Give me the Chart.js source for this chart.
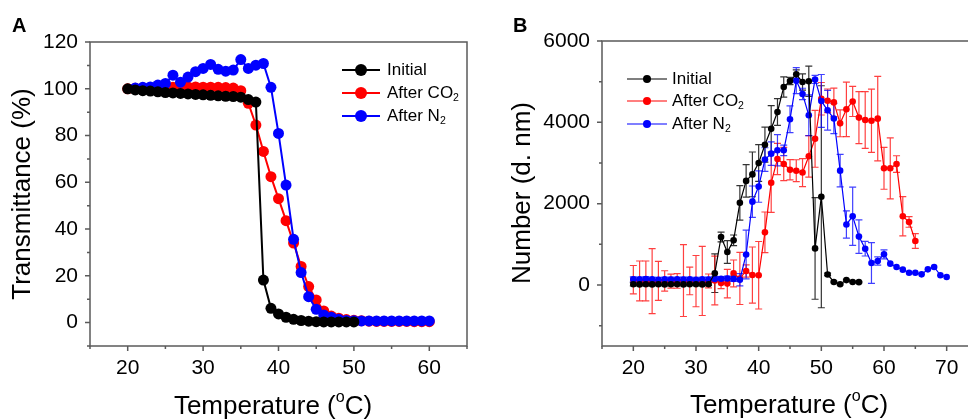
<!DOCTYPE html>
<html>
<head>
<meta charset="utf-8">
<script src="https://cdn.jsdelivr.net/npm/chart.js"></script>
<style>
  html, body { margin: 0; padding: 0; background: #fff; overflow: hidden; width: 968px; height: 420px; }
  canvas { position: absolute; top: 0; }
  #chartA { left: 0; }
  #chartB { left: 490px; }
</style>
</head>
<body>
<canvas id="chartA" width="485" height="420"></canvas>
<canvas id="chartB" width="495" height="420"></canvas>
<script>
// ---- Panel A: transmittance vs temperature ----
const tempA_initial = [20,21,22,23,24,25,26,27,28,29,30,31,32,33,34,35,36,37,38,39,40,41,42,43,44,45,46,47,48,49,50];
const transInitial = [100,99.5,99.2,99,98.7,98.4,98.2,98,97.8,97.6,97.4,97.2,97,96.8,96.7,96.4,95.4,94.3,18.2,6.1,3.7,2.3,1.4,0.9,0.6,0.4,0.3,0.3,0.3,0.3,0.3];

const tempA_co2 = [20,21,22,23,24,25,26,27,28,29,30,31,32,33,34,35,36,37,38,39,40,41,42,43,44,45,46,47,48,49,50,51,52,53,54,55,56,57,58,59,60];
const transCO2 = [100,100.2,100.3,100.3,100.5,100.6,100.7,100.8,100.8,100.8,100.7,100.7,100.6,100.5,100.3,99.2,93.8,84.5,73.2,62.4,53,43.6,34,24,15.4,9.7,5,2.8,1.9,1.3,1,0.8,0.6,0.5,0.5,0.5,0.5,0.5,0.4,0.4,0.4];

const tempA_n2 = [21,22,23,24,25,26,27,28,29,30,31,32,33,34,35,36,37,38,39,40,41,42,43,44,45,46,47,48,49,50,51,52,53,54,55,56,57,58,59,60];
const transN2 = [100.3,100.6,100.8,101.6,102.3,105.8,102.8,105,107.3,108.7,110.4,108.3,107.5,108,112.5,108.7,110.1,110.8,100.6,80.9,58.8,35.6,21.4,11.1,5.7,3.3,2.3,1.4,0.9,0.8,0.7,0.7,0.7,0.7,0.7,0.7,0.7,0.7,0.7,0.7];

const xTicksA = [20,30,40,50,60];
const xMinorA = [15,25,35,45,55,65];
const yTicksA = [0,20,40,60,80,100,120];
const yMinorA = [-10,10,30,50,70,90,110];

// ---- Panel B: size (number, d. nm) vs temperature ----
const tempB_initial = [20,21,22,23,24,25,26,27,28,29,30,31,32,33,34,35,36,37,38,39,40,41,42,43,44,45,46,47,48,49,50,51,52,53,54,55,56];
const numInitial = [20,15,20,15,20,15,20,20,15,20,20,15,20,290,1180,810,1100,2020,2560,2720,3000,3450,3840,4255,4870,5015,5180,4990,5010,900,2170,260,75,20,120,75,70];
const errInitial = [40,30,40,35,30,40,35,30,40,30,35,40,30,475,120,280,130,425,400,550,450,430,570,330,250,90,110,200,370,1250,2730,30,20,20,20,20,20];

const tempB_co2 = [20,21,22,23,24,25,26,27,28,29,30,31,32,33,34,35,36,37,38,39,40,41,42,43,44,45,46,47,48,49,50,51,52,53,54,55,56,57,58,59,60,61,62,63,64,65];
const numCO2 = [130,100,100,95,100,100,95,100,110,100,95,100,100,110,50,35,285,160,345,245,240,1295,2515,3100,2975,2835,2810,2765,3165,3595,4580,4530,4490,3975,4320,4513,4117,4058,4038,4091,2870,2870,2973,1690,1550,1082];
const errCO2 = [350,490,490,800,480,250,170,180,885,340,630,850,170,600,140,350,330,640,150,690,830,500,730,385,410,250,270,345,510,700,400,290,350,330,670,370,640,697,779,1040,516,750,205,484,130,180];

const tempB_n2 = [20,21,22,23,24,25,26,27,28,29,30,31,32,33,34,35,36,37,38,39,40,41,42,43,44,45,46,47,48,49,50,51,52,53,54,55,56,57,58,59,60,61,62,63,64,65,66,67,68,69,70];
const numN2 = [140,140,145,140,130,140,135,140,135,140,130,140,135,150,155,160,150,130,750,2050,2420,3085,3230,3312,3312,4075,5025,4698,4173,5055,4526,4296,4093,2812,1488,1690,1190,893,541,590,754,525,443,377,303,303,262,385,443,238,197];
const errN2 = [60,50,60,50,60,50,60,50,60,50,60,50,60,60,50,60,60,150,600,385,385,290,290,385,130,330,320,140,500,100,650,490,370,400,336,715,410,180,500,100,110,0,0,0,0,0,0,0,0,0,0];

const xTicksB = [20,30,40,50,60,70];
const xMinorB = [15,25,35,45,55,65,75];
const yTicksB = [0,2000,4000,6000];
const yMinorB = [-1000,1000,3000,5000];

const FONT = "'Liberation Sans', Arial, Helvetica, sans-serif";
Chart.defaults.font.family = FONT;
Chart.defaults.color = '#000';

function pts(xs, ys) {
  return xs.map((x, i) => ({ x: x, y: ys[i] }));
}

// extra drawing per canvas: frame, ticks, titles, legend, error bars
const DECOR = {
  chartA: {
    xMajor: xTicksA, xMinor: xMinorA, yMajor: yTicksA, yMinor: yMinorA,
    letter: { text: 'A', x: 12, y: 26 },
    xTitle: { x: 273, y: 407 },
    yTitle: { x: 23, y: 194 },
    legend: { x: 342, len: 38, ys: [70, 93, 116], r: 5.5, lw: 2, textX: 387 },
    errors: null
  },
  chartB: {
    xMajor: xTicksB, xMinor: xMinorB, yMajor: yTicksB, yMinor: yMinorB,
    letter: { text: 'B', x: 23, y: 26 },
    xTitle: { x: 299, y: 406 },
    yTitle: { x: 33, y: 193 },
    legend: { x: 137, len: 40, ys: [79, 101, 124], r: 3.5, lw: 1.2, textX: 182 },
    errors: [errInitial, errCO2, errN2],
    errColors: ['rgba(0,0,0,0.8)', 'rgba(255,0,0,0.75)', 'rgba(0,0,255,0.75)']
  }
};

const LEGEND_LABELS = [
  [['Initial', null]],
  [['After CO', null], ['2', 'sub']],
  [['After N', null], ['2', 'sub']]
];
const TITLE_X = [['Temperature (', null], ['o', 'sup'], ['C)', null]];

function drawParts(ctx, parts, x, y, size, align) {
  const widths = parts.map(p => {
    ctx.font = (p[1] ? size * 0.62 : size) + 'px ' + FONT;
    return ctx.measureText(p[0]).width;
  });
  const total = widths.reduce((a, b) => a + b, 0);
  let cx = align === 'center' ? x - total / 2 : x;
  ctx.textAlign = 'left';
  ctx.textBaseline = 'middle';
  parts.forEach((p, i) => {
    ctx.font = (p[1] ? size * 0.62 : size) + 'px ' + FONT;
    let dy = 0;
    if (p[1] === 'sub') dy = size * 0.32;
    if (p[1] === 'sup') dy = -size * 0.36;
    ctx.fillText(p[0], cx, y + dy);
    cx += widths[i];
  });
}

const decorPlugin = {
  id: 'decor',
  beforeDatasetsDraw(chart) {
    const cfg = DECOR[chart.canvas.id];
    if (!cfg.errors) return;
    const ctx = chart.ctx;
    const xs = chart.scales.x, ys = chart.scales.y;
    cfg.errors.forEach((errs, di) => {
      const ds = chart.data.datasets[di];
      ctx.save();
      ctx.strokeStyle = cfg.errColors[di];
      ctx.lineWidth = 1.2;
      ds.data.forEach((p, i) => {
        const e = errs[i];
        if (!e) return;
        const px = xs.getPixelForValue(p.x);
        const top = ys.getPixelForValue(p.y + e);
        const bot = ys.getPixelForValue(p.y - e);
        ctx.beginPath();
        ctx.moveTo(px, top); ctx.lineTo(px, bot);
        ctx.moveTo(px - 3.5, top); ctx.lineTo(px + 3.5, top);
        ctx.moveTo(px - 3.5, bot); ctx.lineTo(px + 3.5, bot);
        ctx.stroke();
      });
      ctx.restore();
    });
  },
  afterDraw(chart) {
    const cfg = DECOR[chart.canvas.id];
    const ctx = chart.ctx;
    const a = chart.chartArea;
    const xs = chart.scales.x, ys = chart.scales.y;
    ctx.save();
    // frame
    ctx.strokeStyle = '#5a5a5a';
    ctx.lineWidth = 1.5;
    ctx.strokeRect(a.left, a.top, a.right - a.left, a.bottom - a.top);
    // ticks, outward
    ctx.beginPath();
    cfg.xMajor.forEach(v => { const p = xs.getPixelForValue(v); ctx.moveTo(p, a.bottom); ctx.lineTo(p, a.bottom + 5); });
    cfg.xMinor.forEach(v => { const p = xs.getPixelForValue(v); ctx.moveTo(p, a.bottom); ctx.lineTo(p, a.bottom + 3); });
    cfg.yMajor.forEach(v => { const p = ys.getPixelForValue(v); ctx.moveTo(a.left, p); ctx.lineTo(a.left - 5, p); });
    cfg.yMinor.forEach(v => { const p = ys.getPixelForValue(v); ctx.moveTo(a.left, p); ctx.lineTo(a.left - 3, p); });
    ctx.stroke();

    ctx.fillStyle = '#000';
    // panel letter
    ctx.font = 'bold 20px ' + FONT;
    ctx.textAlign = 'left';
    ctx.textBaseline = 'middle';
    ctx.fillText(cfg.letter.text, cfg.letter.x, cfg.letter.y);

    // axis titles
    drawParts(ctx, TITLE_X, cfg.xTitle.x, cfg.xTitle.y, 26, 'center');
    ctx.save();
    ctx.translate(cfg.yTitle.x, cfg.yTitle.y);
    ctx.rotate(-Math.PI / 2);
    const yTitle = chart.canvas.id === 'chartA' ? 'Transmittance (%)' : 'Number (d. nm)';
    drawParts(ctx, [[yTitle, null]], 0, 0, 26, 'center');
    ctx.restore();

    // legend
    const lg = cfg.legend;
    chart.data.datasets.forEach((ds, i) => {
      const y = lg.ys[i];
      ctx.strokeStyle = ds.borderColor;
      ctx.lineWidth = lg.lw;
      ctx.beginPath();
      ctx.moveTo(lg.x, y); ctx.lineTo(lg.x + lg.len, y);
      ctx.stroke();
      ctx.fillStyle = ds.pointBackgroundColor;
      ctx.beginPath();
      ctx.arc(lg.x + lg.len / 2, y, lg.r + 0.5, 0, Math.PI * 2);
      ctx.fill();
      ctx.fillStyle = '#000';
      drawParts(ctx, LEGEND_LABELS[i], lg.textX, y, 17, 'left');
    });
    ctx.restore();
  }
};

function makeChart(id, sets, xr, yr, xt, yt, box, style) {
  return new Chart(document.getElementById(id), {
    type: 'line',
    data: {
      datasets: sets.map(s => ({
        label: s.label,
        data: s.data,
        borderColor: s.color,
        backgroundColor: s.color,
        pointBackgroundColor: s.color,
        pointBorderColor: s.color,
        pointRadius: style.r,
        pointBorderWidth: 0,
        borderWidth: style.lw,
        tension: 0,
        order: s.order
      }))
    },
    options: {
      responsive: false,
      animation: false,
      events: [],
      layout: { padding: { top: box.top, right: box.right, left: 0, bottom: 0 } },
      plugins: { legend: { display: false }, tooltip: { enabled: false } },
      scales: {
        x: {
          type: 'linear', min: xr[0], max: xr[1],
          grid: { display: false, drawTicks: false },
          border: { display: false },
          ticks: { font: { size: 21 }, color: '#000', padding: box.xPad, callback: v => String(v) },
          afterBuildTicks: s => { s.ticks = xt.map(v => ({ value: v })); },
          afterFit: s => { s.height = box.xH; }
        },
        y: {
          type: 'linear', min: yr[0], max: yr[1],
          grid: { display: false, drawTicks: false },
          border: { display: false },
          ticks: { font: { size: 21 }, color: '#000', padding: 12, callback: v => String(v) },
          afterBuildTicks: s => { s.ticks = yt.map(v => ({ value: v })); },
          afterFit: s => { s.width = box.yW; }
        }
      }
    },
    plugins: [decorPlugin]
  });
}

makeChart('chartA', [
  { label: 'Initial', data: pts(tempA_initial, transInitial), color: '#000000', order: 0 },
  { label: 'After CO2', data: pts(tempA_co2, transCO2), color: '#ff0000', order: 2 },
  { label: 'After N2', data: pts(tempA_n2, transN2), color: '#0000ff', order: 1 }
], [15, 65], [-10, 120], xTicksA, yTicksA,
  { top: 42, right: 18, xH: 74, yW: 90, xPad: 10 }, { r: 5.5, lw: 2 });

makeChart('chartB', [
  { label: 'Initial', data: pts(tempB_initial, numInitial), color: '#000000', order: 0 },
  { label: 'After CO2', data: pts(tempB_co2, numCO2), color: '#ff0000', order: 2 },
  { label: 'After N2', data: pts(tempB_n2, numN2), color: '#0000ff', order: 1 }
], [15, 75], [-1500, 6000], xTicksB, yTicksB,
  { top: 41, right: 7, xH: 74, yW: 112, xPad: 10 }, { r: 3.3, lw: 1.2 });
</script>
</body>
</html>
